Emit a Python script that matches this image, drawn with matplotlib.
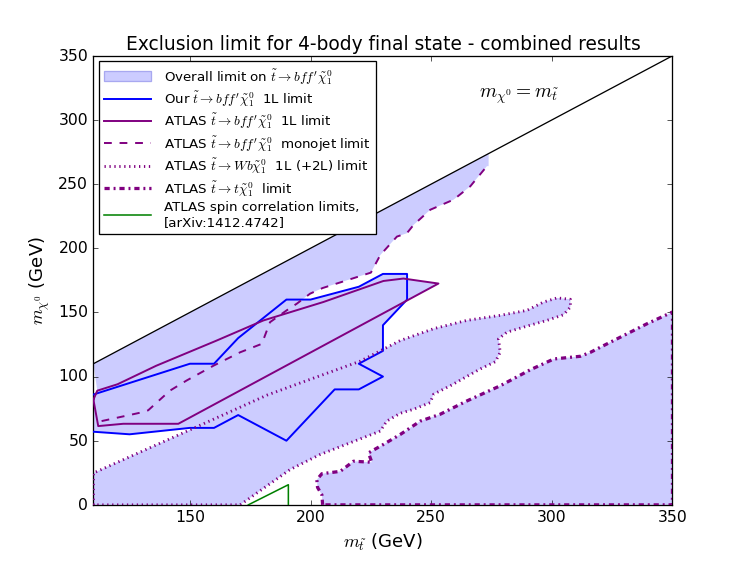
import numpy as np
import matplotlib
matplotlib.use("Agg")
import matplotlib.pyplot as plt
from matplotlib.patches import Patch
from matplotlib.lines import Line2D

plt.style.use('classic')
plt.rcParams['lines.scale_dashes'] = False
plt.rcParams['mathtext.fontset'] = 'cm'

# ======= data (m_stop, m_chi) in GeV =======
# our 1L limit (blue polygon)
our1l_x = [110, 150, 160, 170, 190, 200, 220, 230, 240, 240, 230, 230, 220, 230, 220,
           210, 190, 170, 160, 150, 125, 110]
our1l_y = [86, 110, 110, 130, 160, 160, 170, 180, 180, 160, 140, 120, 110, 100, 90,
           90, 50, 70, 60, 60, 55, 57]

# ATLAS 1L limit (purple polygon)
atlas1l_x = [110, 111.6, 120, 136, 161, 180.4, 205.3, 230.2, 238.5, 245.5, 253,
             145.2, 122.4, 112, 110]
atlas1l_y = [82, 89, 94, 108.4, 128, 143.7, 158.1, 174.5, 176.4, 174.5, 172.5,
             63.2, 63.2, 61.4, 82]

# ATLAS monojet limit (dashed)
mono_x = [113.4, 129.3, 132.7, 141.7, 148.7, 159.7, 170.8, 179.8, 183.2, 190.1, 194.3,
          199.8, 205, 225, 228.9, 235.8, 239.9, 242.7, 249.6, 259.3, 266.2, 273.1]
mono_y = [65.3, 71.8, 73.7, 89, 97, 108.4, 118.9, 125.5, 142.4, 151.6, 156.8,
          164.6, 169, 181, 194.7, 209.1, 211.7, 218.2, 230, 237.9, 248.3, 264]
mono_top_x = 273.8

# ATLAS Wb 1L (+2L) limit (dotted closed contour)
wb_x = [110, 110, 154.2, 181.9, 195.7, 220.6, 237.2, 251, 264.8, 278.6, 289.7, 296.6,
        302.2, 307.7, 307.7, 304.9, 298, 289.7, 281.4, 277.9, 278.6, 276.6, 270.3,
        264.8, 257.9, 251, 249.6, 242.7, 237.2, 231.6, 228.9, 203.9, 191.5, 170.8, 110]
wb_y = [0, 24.8, 62, 85.5, 95, 112, 128.1, 137.3, 143.8, 147.7, 151.6, 158.1,
        161.3, 160.2, 154.2, 148.2, 143.8, 139.3, 134.6, 129.4, 118.9, 111.6, 105.9,
        100.1, 92.8, 86.3, 79.7, 74.5, 71.4, 65.3, 57.5, 39.2, 27.5, 0, 0]

# ATLAS t chi limit (dash-dot closed contour)
tchi_x = [205, 204.7, 202.9, 202.6, 204.7, 212.3, 217.8, 225.4, 224, 230.2, 237.2,
          245.5, 253.7, 264.8, 278.6, 291.1, 300.8, 311.8, 316, 322.9, 339.5, 350,
          350, 205]
tchi_y = [0, 7.8, 13.6, 19.6, 24.3, 26.1, 34, 33.2, 40.5, 47.1, 54.9,
          65.3, 70.6, 81, 92.8, 105.3, 113.7, 115.8, 118.9, 125.5, 141.2, 150.3,
          0, 0]

# ATLAS spin correlation limits (green)
spin_x = [174.2, 190.8, 190.8]
spin_y = [0, 15.7, 0]

diag = [110, 350]

fill_col = '#ccccff'
purple = '#800080'

fig = plt.figure(figsize=(8, 6.01), dpi=93.4, facecolor='w')
ax = fig.add_subplot(111)
fig.subplots_adjust(left=0.125, right=0.9, bottom=0.1, top=0.9)

# overall excluded region = union of the individual regions
mono_px = mono_x + [mono_top_x, mono_top_x, diag[0]]
mono_py = mono_y + [mono_y[-1], mono_top_x, diag[0]]
for xs, ys in [(mono_px, mono_py), (our1l_x, our1l_y), (atlas1l_x, atlas1l_y),
               (wb_x, wb_y), (tchi_x, tchi_y)]:
    ax.fill(xs, ys, facecolor=fill_col, edgecolor='none', lw=0, zorder=1)

ax.plot(diag, diag, 'k-', lw=1, zorder=2)
ax.plot(our1l_x, our1l_y, color='b', lw=1.5, zorder=3)
ax.plot(atlas1l_x, atlas1l_y, color=purple, lw=1.5, zorder=3)
ax.plot(mono_x, mono_y, color=purple, lw=1.5, dashes=(6, 6), zorder=3)
ax.plot(wb_x, wb_y, color=purple, lw=2.2, dashes=(1, 2.8), zorder=3)
ax.plot(tchi_x, tchi_y, color=purple, lw=2.5, dashes=(4, 3, 1.5, 3), zorder=3)
ax.plot(spin_x, spin_y, color='g', lw=1.2, zorder=3)

ax.text(270, 319, r'$m_{\chi^0} = m_{\tilde{t}}$', fontsize=15, va='center')

handles = [
    Patch(facecolor=fill_col, edgecolor='#a8a8f0'),
    Line2D([], [], color='b', lw=1.5),
    Line2D([], [], color=purple, lw=1.5),
    Line2D([], [], color=purple, lw=1.5, dashes=(6, 6)),
    Line2D([], [], color=purple, lw=2.2, dashes=(1, 2.8)),
    Line2D([], [], color=purple, lw=2.5, dashes=(4, 3, 1.5, 3)),
    Line2D([], [], color='g', lw=1.2),
]
labels = [
    r"Overall limit on $\tilde{t}\rightarrow bff'\tilde{\chi}_1^0$",
    r"Our $\tilde{t}\rightarrow bff'\tilde{\chi}_1^0$  1L limit",
    r"ATLAS $\tilde{t}\rightarrow bff'\tilde{\chi}_1^0$  1L limit",
    r"ATLAS $\tilde{t}\rightarrow bff'\tilde{\chi}_1^0$  monojet limit",
    r"ATLAS $\tilde{t}\rightarrow Wb\tilde{\chi}_1^0$  1L (+2L) limit",
    r"ATLAS $\tilde{t}\rightarrow t\tilde{\chi}_1^0$  limit",
    "ATLAS spin correlation limits,\n[arXiv:1412.4742]",
]
leg = ax.legend(handles, labels, loc='upper left', fontsize=10.3, handlelength=3.5,
                handletextpad=1.0, borderaxespad=0.4, labelspacing=0.2,
                numpoints=1, fancybox=False)
leg.get_frame().set_linewidth(1.0)

ax.set_xlim(110, 350)
ax.set_ylim(0, 350)
ax.set_xticks([150, 200, 250, 300, 350])
ax.set_yticks([0, 50, 100, 150, 200, 250, 300, 350])
ax.set_xlabel(r'$m_{\tilde{t}}$ (GeV)', fontsize=14)
ax.set_ylabel(r'$m_{\chi^0}$ (GeV)', fontsize=14)
ax.set_title('Exclusion limit for 4-body final state - combined results', fontsize=14.4)

fig.savefig('out.png', dpi=93.4, facecolor='w')
